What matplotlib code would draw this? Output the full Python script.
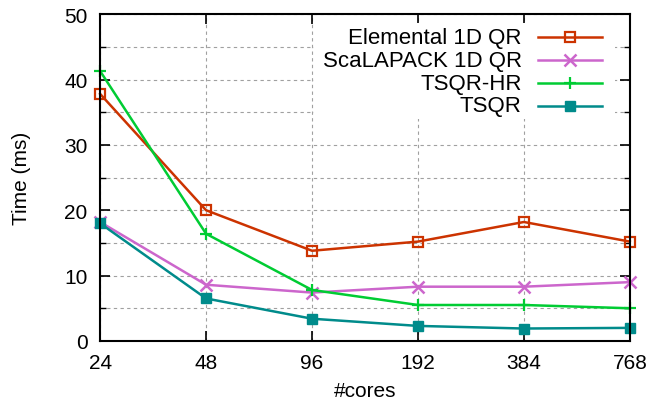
import matplotlib
matplotlib.use("Agg")
import matplotlib.pyplot as plt
from matplotlib.ticker import MultipleLocator
from matplotlib.patches import Rectangle

plt.rcParams['font.family'] = ['Liberation Sans', 'DejaVu Sans']

cores = ["24", "48", "96", "192", "384", "768"]
elemental = [37.8, 20.0, 13.8, 15.2, 18.2, 15.2]
scalapack = [18.2, 8.6, 7.4, 8.3, 8.3, 9.0]
tsqr_hr = [41.3, 16.4, 7.8, 5.5, 5.5, 5.0]
tsqr = [18.0, 6.5, 3.4, 2.3, 1.9, 2.0]
labels = ["Elemental 1D QR", "ScaLAPACK 1D QR", "TSQR-HR", "TSQR"]

fig = plt.figure(figsize=(6.5, 4.1), dpi=100)
ax = fig.add_axes([0.154, 0.166, 0.815, 0.797])
x = list(range(len(cores)))

styles = [
    dict(color='#cc3300', marker='s', mfc='none', mec='#cc3300', ms=7.5, mew=1.6),
    dict(color='#cc66cc', marker='x', ms=8, mew=1.8),
    dict(color='#00cc33', marker='+', ms=9, mew=1.6),
    dict(color='#008b8b', marker='s', ms=7.5),
]
series = [elemental, scalapack, tsqr_hr, tsqr]
for ys, st, lab in zip(series, styles, labels):
    ax.plot(x, ys, lw=1.8, label=lab, clip_on=False, zorder=3, **st)

ax.set_xlim(0, 5)
ax.set_ylim(0, 50)
ax.set_xticks(x)
ax.set_xticklabels(cores)
ax.yaxis.set_major_locator(MultipleLocator(10))
ax.yaxis.set_minor_locator(MultipleLocator(5))
ax.tick_params(axis='both', which='both', direction='in', top=True, right=True, labelsize=15)
ax.tick_params(axis='x', pad=9)
ax.tick_params(axis='y', pad=9)
ax.tick_params(which='major', length=7, width=1.2)
ax.tick_params(which='minor', length=4, width=1.0)
ax.grid(True, which='both', axis='y', linestyle=(0, (3, 3)), color='#a0a0a0', lw=0.8)
ax.grid(True, which='major', axis='x', linestyle=(0, (3, 3)), color='#a0a0a0', lw=0.8)
for s in ax.spines.values():
    s.set_linewidth(1.5)
    s.set_zorder(4)

ax.set_xlabel('#cores', fontsize=15, labelpad=6)
ax.set_ylabel('Time (ms)', fontsize=15, labelpad=24)

# Opaque legend background (no border) hiding the grid
ax.add_patch(Rectangle((0.404, 0.679), 0.568, 0.293, transform=ax.transAxes,
                       facecolor='white', edgecolor='none', zorder=2.6))

# Manual legend (text right-aligned, sample line to the right), in axes coordinates
row_y = [0.930, 0.859, 0.789, 0.719]
for yy, st, lab in zip(row_y, styles, labels):
    ax.text(0.796, yy, lab, transform=ax.transAxes, ha='right', va='center', fontsize=16, zorder=5)
    ax.plot([0.826, 0.947], [yy, yy], transform=ax.transAxes, lw=1.8, color=st['color'], zorder=5, clip_on=False)
    ax.plot([0.887], [yy], transform=ax.transAxes, linestyle='none', zorder=6, clip_on=False, **st)

fig.savefig('out.png', dpi=100)
